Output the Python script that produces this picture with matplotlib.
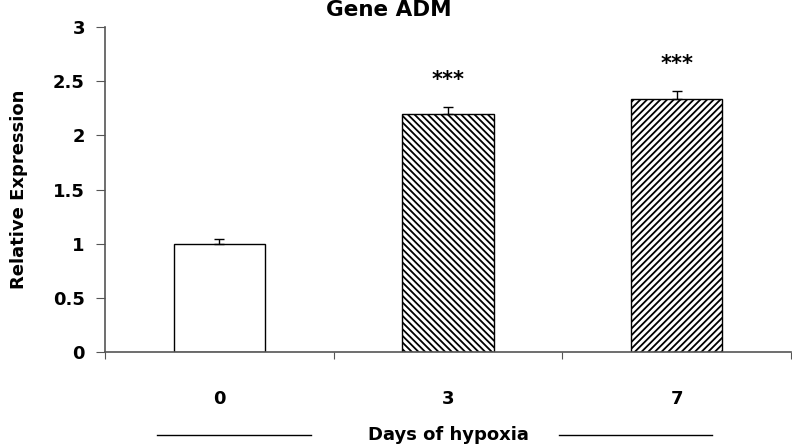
import matplotlib.pyplot as plt
from matplotlib.lines import Line2D

plt.rcParams['font.family'] = ['DejaVu Sans']
plt.rcParams['font.weight'] = 'bold'
plt.rcParams['hatch.linewidth'] = 1.3

# data
days = ['0', '3', '7']
expression = [1.0, 2.2, 2.34]
err_up = [0.045, 0.06, 0.07]
stars = ['', '***', '***']
hatches = ['', '\\' * 5, '/' * 5]

fig = plt.figure(figsize=(7.92, 4.47), dpi=100)
ax = fig.add_axes([0.1326, 0.2125, 0.866, 0.727])

pos = [0.5, 1.5, 2.5]
for i in range(len(days)):
    ax.bar(pos[i], expression[i], width=0.4, color='white', edgecolor='black',
           linewidth=1.0, hatch=hatches[i], zorder=2)
ax.errorbar(pos, expression, yerr=[[0, 0, 0], err_up], fmt='none',
            ecolor='black', elinewidth=1.0, capsize=3.5, capthick=1.0, zorder=3)
for i in range(len(days)):
    if stars[i]:
        ax.text(pos[i], expression[i] + err_up[i] + 0.25, stars[i],
                ha='center', va='center', fontsize=15, fontweight='bold')

ax.set_xlim(0, 3)
ax.set_ylim(0, 3)
ax.set_yticks([0, 0.5, 1, 1.5, 2, 2.5, 3])
ax.set_yticklabels(['0', '0.5', '1', '1.5', '2', '2.5', '3'])
ax.set_xticks([0, 1, 2, 3])
ax.set_xticklabels([])
ax.set_xticks(pos, minor=True)
ax.set_xticklabels(days, minor=True)
ax.tick_params(axis='x', which='major', direction='out', length=5, color='#555555')
ax.tick_params(axis='x', which='minor', length=0, pad=27, labelsize=13)
ax.tick_params(axis='y', direction='out', length=6.5, color='#555555', labelsize=13, pad=8)

for s in ['top', 'right']:
    ax.spines[s].set_visible(False)
for s in ['left', 'bottom']:
    ax.spines[s].set_color('#555555')
    ax.spines[s].set_linewidth(1.2)

ax.set_ylabel('Relative Expression', fontsize=13, fontweight='bold', labelpad=18)
fig.text(0.491, 0.977, 'Gene ADM', ha='center', va='center', fontsize=15.5, fontweight='bold')

fig.text(0.5656, 0.027, 'Days of hypoxia', ha='center', va='center', fontsize=13, fontweight='bold')
fig.add_artist(Line2D([0.198, 0.393], [0.027, 0.027], color='black', linewidth=1.0))
fig.add_artist(Line2D([0.706, 0.899], [0.027, 0.027], color='black', linewidth=1.0))

fig.savefig('out.png', dpi=100)
